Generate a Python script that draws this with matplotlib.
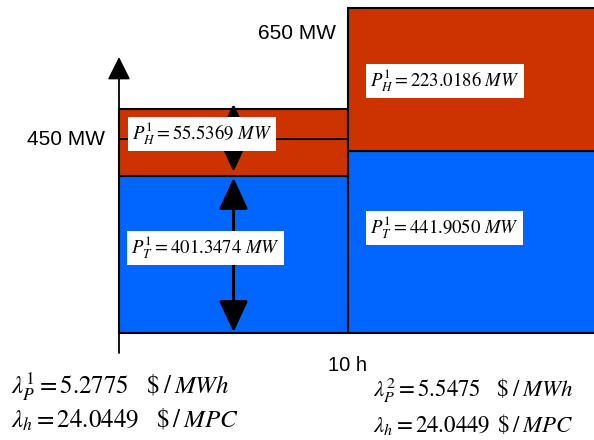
import matplotlib.pyplot as plt
from matplotlib.patches import ArrowStyle

plt.rcParams['mathtext.fontset'] = 'stix'
plt.rcParams['font.family'] = ['Liberation Sans', 'DejaVu Sans']

# two periods, x in hours
starts = [0, 10]
widths = [10, 14]
# block heights as drawn in the diagram (schematic, not to scale)
thermal_drawn = [364, 422]
hydro_drawn = [156, 332]
# values written on the blocks
thermal_values = ['401.3474', '441.9050']
hydro_values = ['55.5369', '223.0186']
lambda_p = ['5.2775', '5.5475']
lambda_h = ['24.0449', '24.0449']
mw_marks = ['450 MW', '650 MW']
mw_levels = [450, 696]
hour_label = '10 h'

# pixel scale of the sketch
PX_H = 22.9
PX_MW = 0.431
X0, Y0 = 119, 333

def hx(px):
    return (px - X0) / PX_H

def my(py):
    return (Y0 - py) / PX_MW

fig = plt.figure(figsize=(5.94, 4.40), dpi=100)
ax = fig.add_axes([0, 0, 1, 1])
ax.set_xlim(hx(0), hx(594))
ax.set_ylim(my(440), my(0))
ax.axis('off')

red = '#CC3300'
blue = '#0066FF'

ax.bar(starts, thermal_drawn, width=widths, align='edge', color=blue,
       edgecolor='black', linewidth=1.5, zorder=2)
ax.bar(starts, hydro_drawn, width=widths, bottom=thermal_drawn, align='edge',
       color=red, edgecolor='black', linewidth=1.5, zorder=2)

# 450 MW reference line inside first block
ax.plot([starts[0], starts[0] + widths[0]], [mw_levels[0], mw_levels[0]],
        color='black', lw=1.3, zorder=3)

# vertical axis with arrow
ax.annotate('', xy=(0, my(57)), xytext=(0, my(353)),
            arrowprops=dict(arrowstyle=ArrowStyle('-|>', head_length=1.0, head_width=0.5),
                            mutation_scale=14, lw=1.3, color='black',
                            shrinkA=0, shrinkB=0), zorder=4)

# double arrows across the first period blocks
mid = starts[0] + widths[0] / 2
dbl = ArrowStyle('<|-|>', head_length=0.97, head_width=0.45)
ax.annotate('', xy=(mid, thermal_drawn[0] + hydro_drawn[0] + 12), xytext=(mid, thermal_drawn[0] + 10),
            arrowprops=dict(arrowstyle=dbl, mutation_scale=20, lw=2.2, color='black',
                            shrinkA=0, shrinkB=0), zorder=4)
ax.annotate('', xy=(mid, thermal_drawn[0] - 4), xytext=(mid, 2),
            arrowprops=dict(arrowstyle=dbl, mutation_scale=20, lw=2.2, color='black',
                            shrinkA=0, shrinkB=0), zorder=4)

box = dict(facecolor='white', edgecolor='none', pad=3)
ts = 13.5
ax.text(hx(132), my(134), r'$P_H^1 = %s\ MW$' % hydro_values[0], fontsize=ts,
        va='center', ha='left', bbox=box, zorder=5)
ax.text(hx(370), my(81), r'$P_H^1 = %s\ MW$' % hydro_values[1], fontsize=ts,
        va='center', ha='left', bbox=box, zorder=5)
ax.text(hx(131), my(248), r'$P_T^1 = %s\ MW$' % thermal_values[0], fontsize=ts,
        va='center', ha='left', bbox=box, zorder=5)
ax.text(hx(370), my(228), r'$P_T^1 = %s\ MW$' % thermal_values[1], fontsize=ts,
        va='center', ha='left', bbox=box, zorder=5)

ax.text(hx(105), mw_levels[0], mw_marks[0], fontsize=15, ha='right', va='center')
ax.text(hx(336), mw_levels[1], mw_marks[1], fontsize=15, ha='right', va='center')
ax.text(starts[1], my(365), hour_label, fontsize=14.5, ha='center', va='center')

# price lines under each period: x, baselines, size, gap before units
rows = [(11, 393, 428, 18, r'\quad'), (373, 397, 432, 16.5, r'\enspace')]
for i, (xp, b1, b2, bs, gap) in enumerate(rows):
    ax.text(hx(xp), my(b1), r'$\lambda_P^%d = %s\quad \$\:/\:MWh$' % (i + 1, lambda_p[i]),
            fontsize=bs, ha='left', va='baseline')
    ax.text(hx(xp), my(b2), r'$\lambda_h = %s%s \$\:/\:MPC$' % (lambda_h[i], gap),
            fontsize=bs, ha='left', va='baseline')

fig.savefig('out.png', dpi=100, facecolor='white')
